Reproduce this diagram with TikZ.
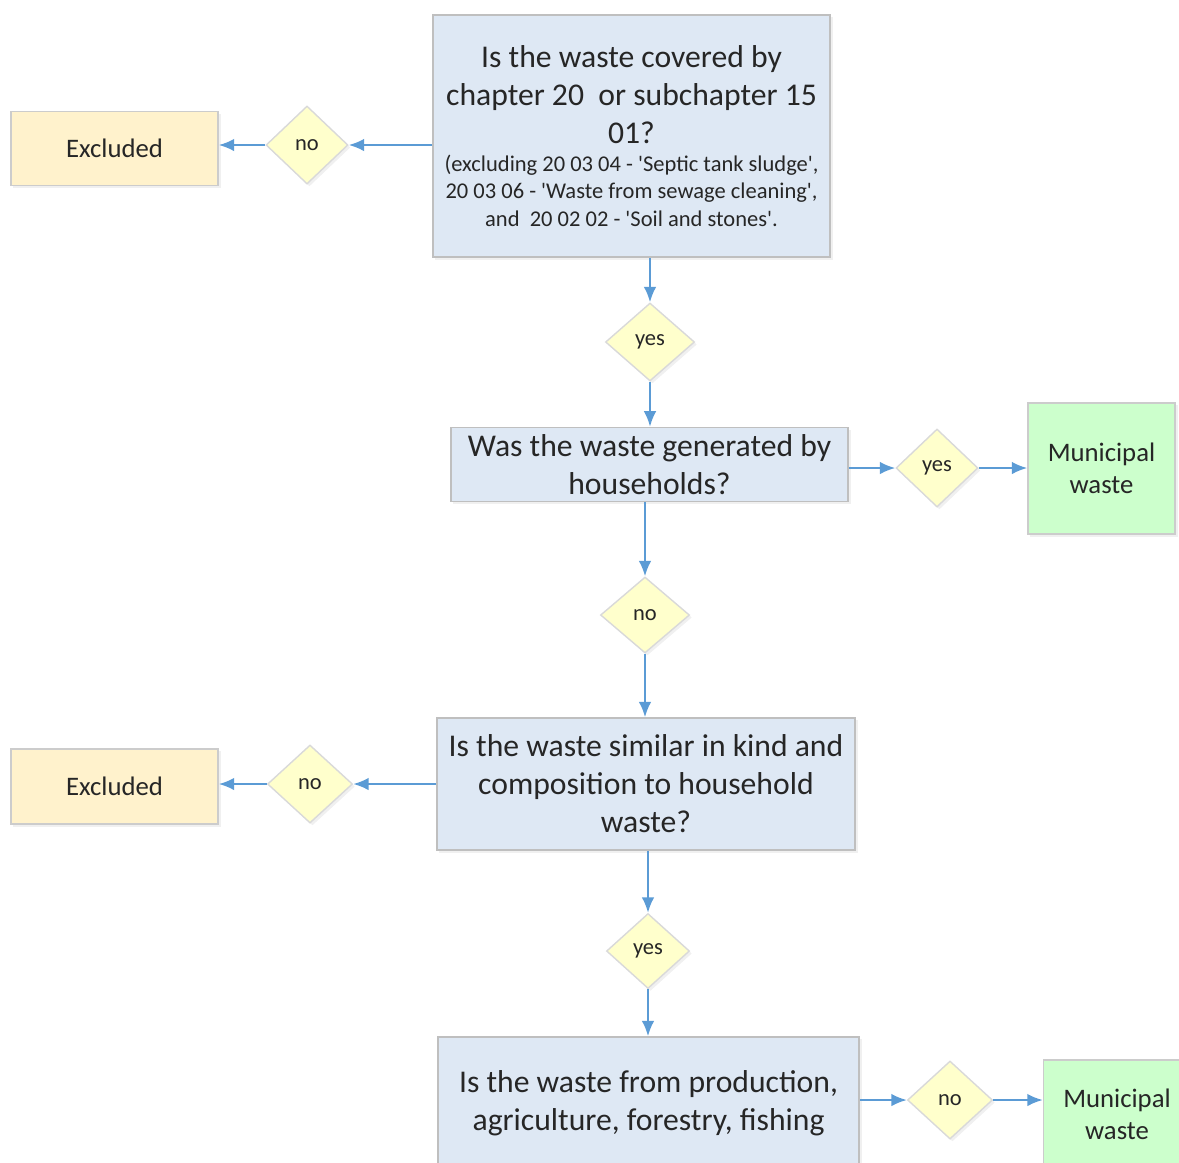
\documentclass[tikz,border=0pt]{standalone}
\usepackage{fontspec}
\setmainfont{Carlito}
\usepackage{tikz}
\usetikzlibrary{shapes.geometric, arrows.meta, positioning, shadows}

\definecolor{qblue}{HTML}{DEE8F4}
\definecolor{exyellow}{HTML}{FFF2CC}
\definecolor{dyellow}{HTML}{FFFFCC}
\definecolor{mgreen}{HTML}{CCFFCC}
\definecolor{flowblue}{HTML}{5B9BD5}
\newcommand{\q}{\textquotesingle}
\newcommand{\smalltext}{\fontsize{6.4}{7.7}\selectfont}

\tikzset{
  soft/.style={drop shadow={shadow xshift=0.7pt, shadow yshift=-0.7pt, opacity=0.12}},
  qbox/.style={soft, draw=black!25, fill=qblue, align=center, inner sep=2pt,
    text=black!85, font=\fontsize{9}{10.8}\selectfont},
  exbox/.style={soft, draw=black!20, fill=exyellow, minimum width=2.07cm, minimum height=0.74cm,
    text=black!85, font=\fontsize{7.6}{9}\selectfont},
  munbox/.style={soft, draw=black!20, fill=mgreen, minimum width=1.47cm, minimum height=1.31cm,
    align=center, text=black!85, font=\fontsize{7.6}{9.1}\selectfont},
  choice/.style={soft, diamond, draw=black!15, fill=dyellow, inner sep=0pt, minimum width=0.82cm,
    minimum height=0.78cm, text=black!85, font=\fontsize{6.4}{7.5}\selectfont},
  flow/.style={draw=flowblue, line width=0.6pt, -{Latex[length=4.4pt, width=3.6pt]}}
}

\begin{document}
\begin{tikzpicture}[x=0.01cm, y=-0.01cm]
\useasboundingbox (0,0) rectangle (1179,1162);
\clip (0,0) rectangle (1179,1162);
\node[qbox, minimum width=3.97cm, minimum height=2.42cm] (q1) at (631.5,136)
  {Is the waste covered by\\ chapter 20\ \ or subchapter 15\\ 01?\\[-3pt]
   \smalltext (excluding 20 03 04 - \q Septic tank sludge\q,\\[-3pt]
   \smalltext 20 03 06 - \q Waste from sewage cleaning\q,\\[-3pt]
   \smalltext and\ \ 20 02 02 - \q Soil and stones\q.};
\node[choice] (no1) at (307,145) {no};
\node[exbox] (ex1) at (114.5,148.5) {Excluded};
\node[choice, minimum width=0.89cm] (yes1) at (650,342) {yes};
\node[qbox, minimum width=3.97cm, minimum height=0.73cm] (q2) at (649.5,464.5)
  {Was the waste generated by\\households?};
\node[choice] (yes2) at (937,468) {yes};
\node[munbox] (mun1) at (1101.5,468.5) {Municipal\\waste};
\node[choice, minimum width=0.89cm, minimum height=0.76cm] (no2) at (645,615) {no};
\node[qbox, minimum width=4.18cm, minimum height=1.32cm] (q3) at (646,784)
  {Is the waste similar in kind and\\composition to household\\waste?};
\node[choice, minimum width=0.85cm] (no3) at (310,784) {no};
\node[exbox, minimum height=0.75cm] (ex2) at (114.5,786.5) {Excluded};
\node[choice, minimum width=0.83cm, minimum height=0.75cm] (yes3) at (648,951) {yes};
\node[qbox, minimum width=4.21cm, minimum height=1.33cm] (q4) at (648.5,1103.5)
  {Is the waste from production,\\agriculture, forestry, fishing};
\node[choice, minimum width=0.85cm] (no4) at (950,1100) {no};
\node[munbox, minimum height=1.08cm] (mun2) at (1117,1114) {Municipal\\waste};

\draw[flow] (q1.west |- no1.east) -- (no1.east);
\draw[flow] (no1.west) -- (ex1.east |- no1.west);
\draw[flow] (q1.south -| yes1.north) -- (yes1.north);
\draw[flow] (yes1.south) -- (q2.north -| yes1.south);
\draw[flow] (q2.east |- yes2.west) -- (yes2.west);
\draw[flow] (yes2.east) -- (mun1.west |- yes2.east);
\draw[flow] (q2.south -| no2.north) -- (no2.north);
\draw[flow] (no2.south) -- (q3.north -| no2.south);
\draw[flow] (q3.west |- no3.east) -- (no3.east);
\draw[flow] (no3.west) -- (ex2.east |- no3.west);
\draw[flow] (q3.south -| yes3.north) -- (yes3.north);
\draw[flow] (yes3.south) -- (q4.north -| yes3.south);
\draw[flow] (q4.east |- no4.west) -- (no4.west);
\draw[flow] (no4.east) -- (mun2.west |- no4.east);
\end{tikzpicture}
\end{document}
